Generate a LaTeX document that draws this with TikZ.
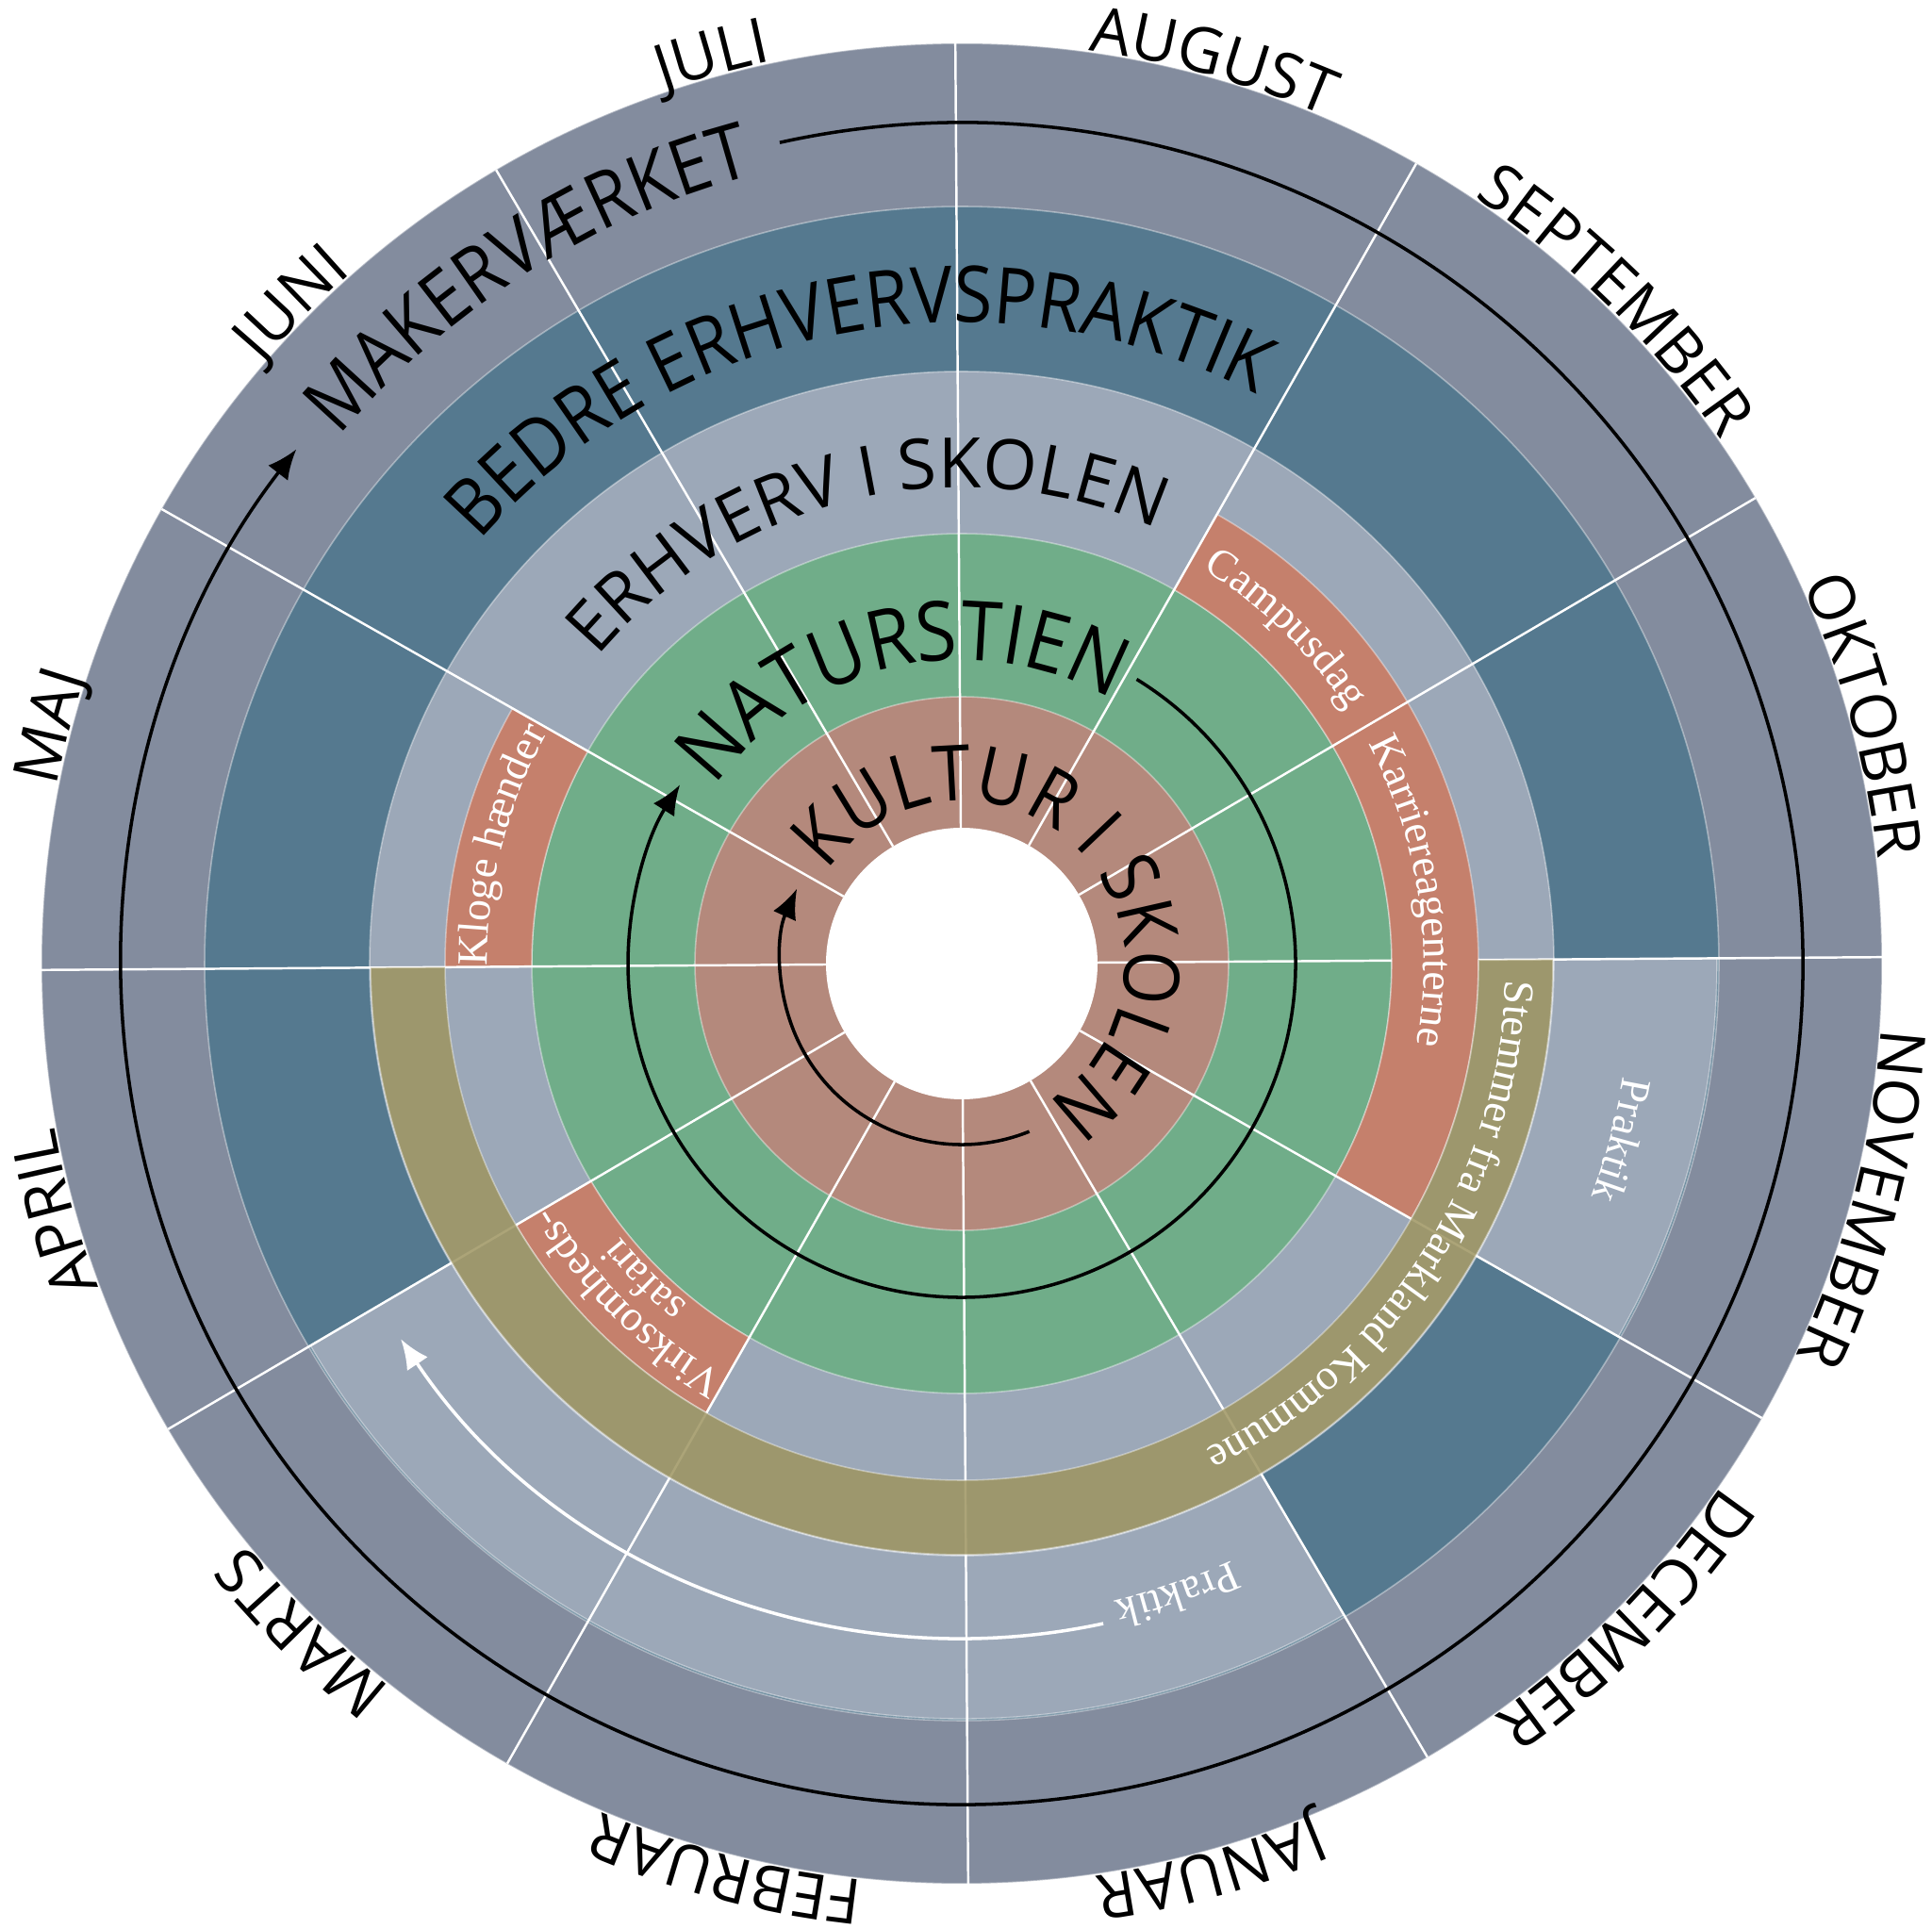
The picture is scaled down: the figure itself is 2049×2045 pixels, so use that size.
\documentclass[tikz,border=0pt]{standalone}
\usepackage{fontspec}
\setsansfont{Open Sans}
\newfontfamily\titlesans[FakeStretch=0.9]{Open Sans}
\newfontfamily\labelserif{Liberation Serif}
\usetikzlibrary{decorations.text,arrows.meta}
\definecolor{ringfive}{HTML}{838C9E}
\definecolor{ringfour}{HTML}{55798F}
\definecolor{ringthree}{HTML}{9CA8B8}
\definecolor{ringtwo}{HTML}{70AD89}
\definecolor{ringone}{HTML}{B4897C}
\definecolor{salmon}{HTML}{C5806C}
\definecolor{olive}{HTML}{9E9561}
\newcommand{\ringfont}[1]{\titlesans\fontsize{#1}{#1}\selectfont}
\newcommand{\widefont}[1]{\sffamily\fontsize{#1}{#1}\selectfont}
\newcommand{\monthfont}{\sffamily\fontsize{19}{19}\selectfont}
\newcommand{\notefont}{\labelserif\fontsize{13}{13}\selectfont\color{white}}

\begin{document}
\begin{tikzpicture}[
    x=0.01cm, y=0.01cm,
    ring/.style={draw=white, draw opacity=0.4, line width=0.45pt},
    spoke/.style={draw=white, line width=0.7pt},
    cycle arrow/.style={draw=black, line width=1pt, -{Latex[length=9pt,width=7.5pt]}},
    centred/.style={decorate, decoration={text along path, text align=center}}
]
    \useasboundingbox (0,0) rectangle (2049,2045);
    \begin{scope}[shift={(1020,1023)}, rotate=0.4]
    \coordinate (hub) at (0,0);

    \path[fill=ringfive, ring] (hub) circle[radius=976];
    \path[fill=ringfour, ring] (hub) circle[radius=803];
    \path[fill=ringthree, ring] (hub) circle[radius=628];
    \path[fill=ringtwo, ring] (hub) circle[radius=456];
    \path[fill=ringone, ring] (hub) circle[radius=283];
    \path[fill=white] (hub) circle[radius=144];

    \path[fill=ringthree, ring] (0:628) arc[start angle=0, end angle=-30, radius=628] -- (-30:801) arc[start angle=-30, end angle=0, radius=801] -- cycle;
    \path[fill=ringthree, ring] (-60:628) arc[start angle=-60, end angle=-150, radius=628] -- (-150:801) arc[start angle=-150, end angle=-60, radius=801] -- cycle;

    \foreach \a/\b in {60/30, 30/-30, 180/150, -120/-150}
        \path[fill=salmon, ring] (\a:456) arc[start angle=\a, end angle=\b, radius=456] -- (\b:548) arc[start angle=\b, end angle=\a, radius=548] -- cycle;

    \foreach \a in {30,60,...,330}
        \draw[spoke] (\a:144) -- (\a:976);
    \draw[spoke] (0:144) -- (0:456);
    \draw[spoke] (0:548) -- (0:976);

    \path[fill=olive, fill opacity=0.85, ring] (0:548) arc[start angle=0, end angle=-180, radius=548] -- (180:627) arc[start angle=180, end angle=360, radius=627] -- cycle;

    \draw[cycle arrow] (102.1:892) arc[start angle=102.1, end angle=-218.1, radius=892];
    \draw[cycle arrow] (58:354) arc[start angle=58, end angle=-212.8, radius=354];
    \draw[cycle arrow] (-68.5:192) arc[start angle=-68.5, end angle=-204.8, radius=192];
    \draw[cycle arrow, draw=white] (-78.3:716) arc[start angle=-78.3, end angle=-146.6, radius=716];

    \path[centred, decoration={text={|\ringfont{23.3}|KULTUR I SKOLEN}}] (163:172.5) arc[start angle=163, end angle=-77, radius=172.5];
    \path[centred, decoration={text={|\ringfont{24.9}|NATURSTIEN}}] (157:322) arc[start angle=157, end angle=47, radius=322];
    \path[centred, decoration={text={|\widefont{21}|ERHVERV I SKOLEN}}] (157.5:505) arc[start angle=157.5, end angle=47.5, radius=505];
    \path[centred, decoration={text={|\ringfont{23.6}|BEDRE ERHVERVSPRAKTIK}}] (155.3:680) arc[start angle=155.3, end angle=45.3, radius=680];
    \path[centred, decoration={text={|\ringfont{23.4}|MAKERVÆRKET}}] (151.85:865) arc[start angle=151.85, end angle=91.85, radius=865];

    \path[centred, decoration={text={|\notefont|Campusdag}}] (59.5:490) arc[start angle=59.5, end angle=31.5, radius=490];
    \path[centred, decoration={text={|\notefont|Karriereagenterne}}] (33.7:490) arc[start angle=33.7, end angle=-16.3, radius=490];
    \path[centred, decoration={text={|\notefont|Kloge hænder}}] (185.2:503) arc[start angle=185.2, end angle=145.2, radius=503];
    \path[centred, decoration={text={|\notefont|Virksomheds-}}] (-115:505) arc[start angle=-115, end angle=-155, radius=505];
    \path[centred, decoration={text={|\notefont|safari}}] (-115.5:464) arc[start angle=-115.5, end angle=-155.5, radius=464];
    \path[centred, decoration={text={|\notefont|Stemmer fra Markland Kommune}}] (7:577) arc[start angle=7, end angle=-73, radius=577];
    \path[centred, decoration={text={|\notefont|Praktik}}] (-1.4:712) arc[start angle=-1.4, end angle=-29.4, radius=712];
    \path[centred, decoration={text={|\notefont|Praktik}}] (-57.5:695) arc[start angle=-57.5, end angle=-85.5, radius=695];

    \path[centred, decoration={text={|\monthfont|AUGUST}}] (88:978) arc[start angle=88, end angle=60, radius=978];
    \path[centred, decoration={text={|\monthfont|SEPTEMBER}}] (59:978) arc[start angle=59, end angle=31, radius=978];
    \path[centred, decoration={text={|\monthfont|OKTOBER}}] (29:978) arc[start angle=29, end angle=1, radius=978];
    \path[centred, decoration={text={|\monthfont|NOVEMBER}}] (-1:978) arc[start angle=-1, end angle=-29, radius=978];
    \path[centred, decoration={text={|\monthfont|DECEMBER}}] (-31:978) arc[start angle=-31, end angle=-59, radius=978];
    \path[centred, decoration={text={|\monthfont|JANUAR}}] (-61:978) arc[start angle=-61, end angle=-89, radius=978];
    \path[centred, decoration={text={|\monthfont|FEBRUAR}}] (-91:978) arc[start angle=-91, end angle=-119, radius=978];
    \path[centred, decoration={text={|\monthfont|MARTS}}] (-121:978) arc[start angle=-121, end angle=-149, radius=978];
    \path[centred, decoration={text={|\monthfont|APRIL}}] (-151:978) arc[start angle=-151, end angle=-179, radius=978];
    \path[centred, decoration={text={|\monthfont|MAJ}}] (179:978) arc[start angle=179, end angle=151, radius=978];
    \path[centred, decoration={text={|\monthfont|JUNI}}] (149:978) arc[start angle=149, end angle=121, radius=978];
    \path[centred, decoration={text={|\monthfont|JULI}}] (119:978) arc[start angle=119, end angle=91, radius=978];
    \end{scope}
\end{tikzpicture}
\end{document}
